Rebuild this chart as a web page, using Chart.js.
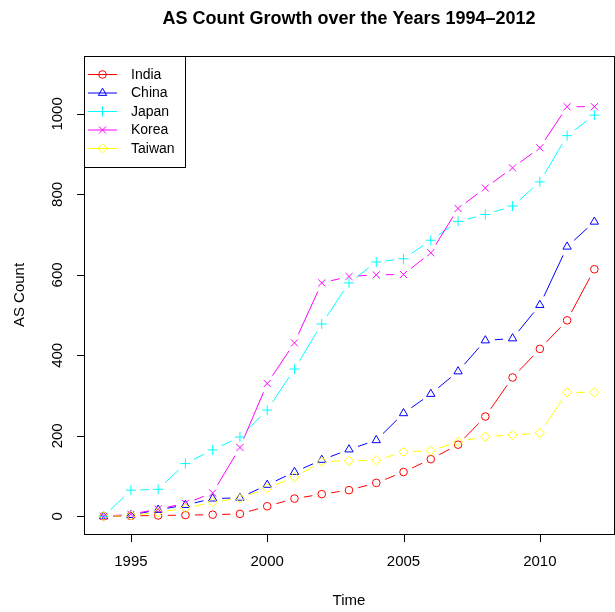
<!DOCTYPE html>
<html>
<head>
<meta charset="utf-8">
<script src="https://cdn.jsdelivr.net/npm/chart.js@4"></script>
<style>
  html, body { margin: 0; padding: 0; background: #fff; overflow: hidden; }
  #wrap { width: 615px; height: 612px; overflow: hidden; }
</style>
</head>
<body>
<div id="wrap"><canvas id="chart" width="620" height="612"></canvas></div>
<script>
const years  = [1994,1995,1996,1997,1998,1999,2000,2001,2002,2003,2004,2005,2006,2007,2008,2009,2010,2011,2012];
const india  = [0,1,2,3,4,6,25,44,55,65,83,110,142,178,248,345,416,487,614];
const china  = [0,3,16,28,44,46,78,110,140,166,189,256,304,360,437,442,525,670,732];
const japan  = [0,65,67,131,165,197,264,366,478,580,632,640,686,733,750,771,831,946,997];
const korea  = [0,5,18,32,58,171,330,431,580,596,600,601,655,765,816,866,916,1018,1018];
const taiwan = [0,2,10,20,35,45,70,97,136,138,139,160,163,185,198,202,207,308,308];

const seriesNames = ['India', 'China', 'Japan', 'Korea', 'Taiwan'];
const xTicks = [1995, 2000, 2005, 2010];
const yTicks = [0, 200, 400, 600, 800, 1000];

const FONT = '"Liberation Sans", Arial, Helvetica, sans-serif';
const GAP = 9.5; // R type="b" leaves a gap round each point

const styles = [
  { color: '#ff0000', point: 'circle',   r: 3.8 },
  { color: '#0000ff', point: 'triangle', r: 4.8 },
  { color: '#00ffff', point: 'cross',    r: 5 },
  { color: '#ff00ff', point: 'crossRot', r: 5 },
  { color: '#ffff00', point: 'rectRot',  r: 4.6 }
];

const values = [india, china, japan, korea, taiwan];

const datasets = values.map((vals, i) => ({
  label: seriesNames[i],
  data: years.map((yr, k) => ({ x: yr, y: vals[k] })),
  showLine: false,
  borderColor: styles[i].color,
  pointStyle: styles[i].point,
  pointRadius: styles[i].r,
  pointHoverRadius: styles[i].r,
  pointBorderWidth: 1,
  pointBorderColor: styles[i].color,
  pointBackgroundColor: 'rgba(0,0,0,0)',
  order: 4 - i
}));

const rPlot = {
  id: 'rPlot',
  beforeDatasetsDraw(chart) {
    const ctx = chart.ctx;
    chart.data.datasets.forEach((ds, i) => {
      const pts = chart.getDatasetMeta(i).data;
      ctx.save();
      ctx.strokeStyle = ds.borderColor;
      ctx.lineWidth = 1;
      ctx.beginPath();
      for (let k = 1; k < pts.length; k++) {
        const a = pts[k - 1], b = pts[k];
        const dx = b.x - a.x, dy = b.y - a.y, len = Math.hypot(dx, dy);
        if (len <= 2 * GAP) continue;
        const ux = dx / len, uy = dy / len;
        ctx.moveTo(a.x + ux * GAP, a.y + uy * GAP);
        ctx.lineTo(b.x - ux * GAP, b.y - uy * GAP);
      }
      ctx.stroke();
      ctx.restore();
    });
  },
  afterDraw(chart) {
    const ctx = chart.ctx;
    const area = chart.chartArea;
    const xs = chart.scales.x, ys = chart.scales.y;
    ctx.save();
    ctx.strokeStyle = '#000';
    ctx.fillStyle = '#000';
    ctx.lineWidth = 1;

    // box
    ctx.strokeRect(Math.round(area.left) + 0.5, Math.round(area.top) + 0.5,
                   Math.round(area.right - area.left), Math.round(area.bottom - area.top));

    // x axis
    const yb = Math.round(area.bottom) + 0.5;
    ctx.beginPath();
    ctx.moveTo(xs.getPixelForValue(xTicks[0]), yb);
    ctx.lineTo(xs.getPixelForValue(xTicks[xTicks.length - 1]), yb);
    xTicks.forEach(t => {
      const px = Math.round(xs.getPixelForValue(t)) + 0.5;
      ctx.moveTo(px, yb);
      ctx.lineTo(px, yb + 7.5);
    });
    ctx.stroke();
    ctx.font = '15px ' + FONT;
    ctx.textAlign = 'center';
    ctx.textBaseline = 'middle';
    xTicks.forEach(t => ctx.fillText(String(t), xs.getPixelForValue(t), 562));

    // y axis
    const xl = Math.round(area.left) + 0.5;
    ctx.beginPath();
    ctx.moveTo(xl, ys.getPixelForValue(yTicks[0]));
    ctx.lineTo(xl, ys.getPixelForValue(yTicks[yTicks.length - 1]));
    yTicks.forEach(t => {
      const py = Math.round(ys.getPixelForValue(t)) + 0.5;
      ctx.moveTo(xl, py);
      ctx.lineTo(xl - 7.5, py);
    });
    ctx.stroke();
    yTicks.forEach(t => {
      ctx.save();
      ctx.translate(58, ys.getPixelForValue(t));
      ctx.rotate(-Math.PI / 2);
      ctx.fillText(String(t), 0, 0);
      ctx.restore();
    });

    // axis titles
    const cx = (area.left + area.right) / 2;
    ctx.fillText('Time', cx, 601);
    ctx.save();
    ctx.translate(20, (area.top + area.bottom) / 2);
    ctx.rotate(-Math.PI / 2);
    ctx.fillText('AS Count', 0, 0);
    ctx.restore();

    // title
    ctx.font = 'bold 18px ' + FONT;
    ctx.fillText('AS Count Growth over the Years 1994\u20132012', cx, 19);

    // legend
    const lx = Math.round(area.left) + 0.5, ly = Math.round(area.top) + 0.5;
    ctx.fillStyle = '#fff';
    ctx.fillRect(lx, ly, 101, 111);
    ctx.strokeRect(lx, ly, 101, 111);
    ctx.font = '14px ' + FONT;
    ctx.textAlign = 'left';
    seriesNames.forEach((name, i) => {
      const ry = 74.5 + i * 18.5;
      ctx.strokeStyle = styles[i].color;
      ctx.lineWidth = 1;
      ctx.beginPath();
      ctx.moveTo(88, ry);
      ctx.lineTo(117, ry);
      ctx.stroke();
      ctx.fillStyle = 'rgba(0,0,0,0)';
      Chart.helpers.drawPoint(ctx, { pointStyle: styles[i].point, radius: styles[i].r, borderWidth: 1 }, 102.5, ry);
      ctx.fillStyle = '#000';
      ctx.fillText(name, 131, ry + 0.5);
    });
    ctx.restore();
  }
};

new Chart(document.getElementById('chart'), {
  type: 'line',
  data: { datasets },
  options: {
    responsive: false,
    animation: false,
    events: [],
    layout: { padding: { left: 84, top: 56, right: 1, bottom: 78 } },
    scales: {
      x: { type: 'linear', min: 1993.28, max: 2012.72, display: false },
      y: { type: 'linear', min: -44, max: 1144, display: false }
    },
    plugins: { legend: { display: false }, title: { display: false }, tooltip: { enabled: false } }
  },
  plugins: [rPlot]
});
</script>
</body>
</html>
